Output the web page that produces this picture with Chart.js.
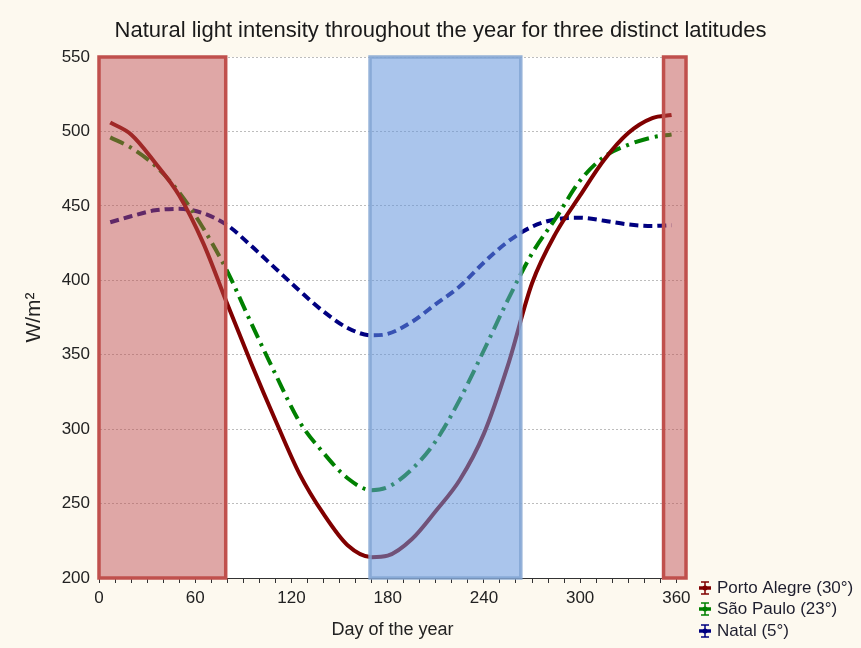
<!DOCTYPE html>
<html>
<head>
<meta charset="utf-8">
<script src="https://cdn.jsdelivr.net/npm/chart.js@4.4.1/dist/chart.umd.min.js"></script>
<style>
  html, body { margin: 0; padding: 0; background: #fdf9ef; }
  #wrap { width: 861px; height: 648px; }
</style>
</head>
<body>
<div id="wrap"><canvas id="myChart" width="861" height="648"></canvas></div>
<script>
const days = [7, 20, 35, 50, 65, 80, 95, 110, 125, 140, 155, 170, 180, 195, 210, 225, 240, 255, 270, 285, 300, 315, 330, 345, 357];

const portoAlegre = [506, 498, 479, 457, 425, 384, 344, 306, 270, 243, 222, 214, 215, 226, 245, 266, 297, 343, 398, 432, 457, 481, 499, 509, 511];
const saoPaulo = [496, 489, 477, 459, 435, 406, 371, 337, 305, 284, 267, 259, 261, 273, 292, 320, 353, 387, 418, 442, 467, 483, 491, 496, 498];
const natal = [439, 443, 447, 448, 445, 437, 423, 408, 393, 379, 368, 363, 364, 372, 384, 396, 412, 426, 436, 441, 442, 440, 437.5, 436.5, 437];

const seriesNames = ["Porto Alegre (30°)", "São Paulo (23°)", "Natal (5°)"];
const seriesColors = ["#800000", "#008000", "#000080"];

// shaded periods of the year [start day, end day]
const periods = [[0, 79], [169, 263], [352, 366]];
const periodKinds = ["red", "blue", "red"];

const toPoints = (vals) => days.map((d, i) => ({ x: d, y: vals[i] }));

const FONT = "'Liberation Sans', Arial, sans-serif";

const bgPlugin = {
  id: "bg",
  beforeDraw(chart) {
    const ctx = chart.ctx;
    const a = chart.chartArea;
    ctx.save();
    ctx.fillStyle = "#fdf9ef";
    ctx.fillRect(0, 0, chart.width, chart.height);
    ctx.fillStyle = "#ffffff";
    ctx.fillRect(a.left, a.top, a.right - a.left, a.bottom - a.top);
    ctx.restore();
  },
};

// semi transparent boxes drawn over the lines
const periodPlugin = {
  id: "periods",
  afterDatasetsDraw(chart) {
    const ctx = chart.ctx;
    const x = chart.scales.x;
    const y = chart.scales.y;
    ctx.save();
    periods.forEach((p, i) => {
      const x0 = x.getPixelForValue(p[0]);
      const x1 = x.getPixelForValue(p[1]);
      const y0 = y.getPixelForValue(550);
      const y1 = y.getPixelForValue(200);
      if (periodKinds[i] == "red") {
        ctx.fillStyle = "rgba(192,80,77,0.5)";
        ctx.strokeStyle = "#c0504d";
      } else {
        ctx.fillStyle = "rgba(100,150,220,0.55)";
        ctx.strokeStyle = "rgba(130,165,210,0.85)";
      }
      ctx.lineWidth = 3.5;
      ctx.fillRect(x0, y0, x1 - x0, y1 - y0);
      ctx.strokeRect(x0, y0, x1 - x0, y1 - y0);
    });
    ctx.restore();
  },
};

// legend in the bottom right corner with error-bar style markers
const legendPlugin = {
  id: "cornerLegend",
  afterDraw(chart) {
    const ctx = chart.ctx;
    ctx.save();
    ctx.font = "17px " + FONT;
    ctx.textBaseline = "middle";
    const rows = [588, 609, 631];
    seriesNames.forEach((name, i) => {
      const cy = rows[i];
      const cx = 705;
      ctx.strokeStyle = seriesColors[i];
      ctx.fillStyle = seriesColors[i];
      ctx.lineWidth = 1.5;
      ctx.beginPath();
      ctx.moveTo(cx, cy - 6); ctx.lineTo(cx, cy + 6);
      ctx.moveTo(cx - 4, cy - 6); ctx.lineTo(cx + 4, cy - 6);
      ctx.moveTo(cx - 4, cy + 6); ctx.lineTo(cx + 4, cy + 6);
      ctx.stroke();
      ctx.lineWidth = 3.5;
      ctx.beginPath();
      ctx.moveTo(cx - 6, cy); ctx.lineTo(cx + 6, cy);
      ctx.stroke();
      ctx.beginPath();
      ctx.arc(cx, cy, 2.5, 0, Math.PI * 2);
      ctx.fill();
      ctx.fillStyle = "#1e1e2e";
      ctx.fillText(name, 717, cy);
    });
    ctx.restore();
  },
};

new Chart("myChart", {
  type: "line",
  data: {
    datasets: [
      {
        label: seriesNames[0],
        data: toPoints(portoAlegre),
        borderColor: seriesColors[0],
        borderWidth: 4,
        pointRadius: 0,
        cubicInterpolationMode: "monotone",
        fill: false,
      },
      {
        label: seriesNames[1],
        data: toPoints(saoPaulo),
        borderColor: seriesColors[1],
        borderWidth: 4,
        borderDash: [15, 6, 3, 6],
        pointRadius: 0,
        cubicInterpolationMode: "monotone",
        fill: false,
      },
      {
        label: seriesNames[2],
        data: toPoints(natal),
        borderColor: seriesColors[2],
        borderWidth: 4,
        borderDash: [9, 5],
        pointRadius: 0,
        cubicInterpolationMode: "monotone",
        fill: false,
      },
    ],
  },
  options: {
    responsive: false,
    animation: false,
    layout: { padding: { left: 20, right: 0, top: 0, bottom: 0 } },
    plugins: {
      legend: { display: false },
      tooltip: { enabled: false },
      title: {
        display: true,
        text: "Natural light intensity throughout the year for three distinct latitudes",
        color: "#1a1a1a",
        font: { family: FONT, size: 22, weight: "normal", lineHeight: 1.2 },
        padding: { top: 18, bottom: 12.6 },
      },
    },
    scales: {
      x: {
        type: "linear",
        min: 0,
        max: 366,
        afterFit(scale) { scale.height = 70; },
        ticks: {
          stepSize: 10,
          includeBounds: false,
          autoSkip: false,
          maxRotation: 0,
          padding: 5,
          color: "#222",
          font: { family: FONT, size: 17 },
          callback: (v) => (v % 60 == 0 ? v : ""),
        },
        grid: { drawOnChartArea: false, drawTicks: true, tickLength: 5, color: "#333" },
        border: { color: "#333", width: 1 },
        title: {
          display: true,
          text: "Day of the year",
          color: "#222",
          font: { family: FONT, size: 18, lineHeight: 1.2 },
          padding: { top: 0, bottom: 7 },
        },
      },
      y: {
        min: 200,
        max: 550,
        afterFit(scale) { scale.width = 79; },
        ticks: {
          stepSize: 50,
          padding: 9,
          color: "#222",
          font: { family: FONT, size: 17 },
        },
        grid: { drawTicks: false, color: "#bdbdbd" },
        border: { color: "#333", width: 1, dash: [2, 2] },
        title: {
          display: true,
          text: "W/m²",
          color: "#222",
          font: { family: FONT, size: 21, lineHeight: 1.2 },
          padding: { top: 2, bottom: 0 },
        },
      },
      // empty right axis that keeps room for the legend
      y2: {
        position: "right",
        min: 200,
        max: 550,
        afterFit(scale) { scale.width = 175; },
        ticks: { display: false },
        grid: { display: false },
        border: { display: false },
      },
    },
  },
  plugins: [bgPlugin, periodPlugin, legendPlugin],
});
</script>
</body>
</html>
